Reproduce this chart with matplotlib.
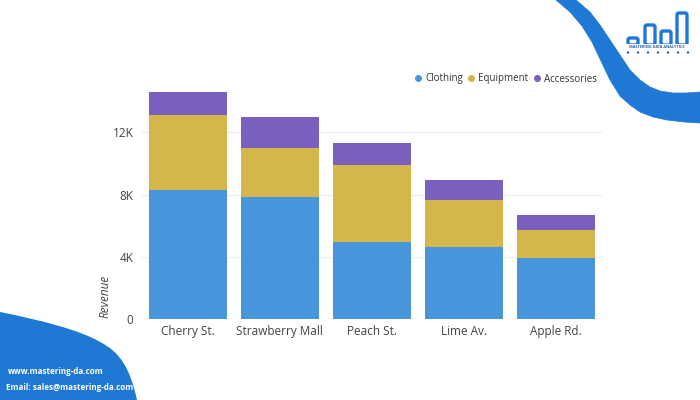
import matplotlib
matplotlib.use("Agg")
import matplotlib.pyplot as plt
import numpy as np
from matplotlib.path import Path
from matplotlib.patches import PathPatch, FancyBboxPatch, Circle, Polygon
from matplotlib.lines import Line2D

plt.rcParams['font.family'] = ['Open Sans', 'DejaVu Sans']

# datos
stores = ["Cherry St.", "Strawberry Mall", "Peach St.", "Lime Av.", "Apple Rd."]
clothing = [8300, 7830, 4960, 4640, 3910]
equipment = [4790, 3180, 4920, 3000, 1840]
accessories = [1500, 1990, 1450, 1320, 940]
series_names = ["Clothing", "Equipment", "Accessories"]
yticks = [0, 4000, 8000, 12000]
ytick_labels = ["0", "4K", "8K", "12K"]

colors = ["#4796db", "#d5b64b", "#7a5fbf"]
wave_blue = "#1f78d4"

W, H = 700, 400
fig = plt.figure(figsize=(7, 4), dpi=100)

# fondo con la decoracion (coordenadas en pixeles)
bg = fig.add_axes([0, 0, 1, 1], zorder=0)
bg.set_xlim(0, W)
bg.set_ylim(H, 0)
bg.axis("off")

# onda abajo a la izquierda
verts = [(0, 312), (40, 320), (80, 330), (100, 342),
         (120, 352), (130, 368), (137, 400),
         (0, 400), (0, 312)]
codes = [Path.MOVETO, Path.CURVE4, Path.CURVE4, Path.CURVE4,
         Path.CURVE4, Path.CURVE4, Path.CURVE4,
         Path.LINETO, Path.CLOSEPOLY]
bg.add_patch(PathPatch(Path(verts, codes), facecolor=wave_blue, edgecolor="none"))

# onda arriba a la derecha
outer = [(556, 0), (570, 12), (582, 26), (592, 42), (600, 59), (610, 80), (620, 96),
         (630, 105), (640, 112), (653, 117), (667, 120), (684, 122), (700, 123)]
inner = [(700, 92), (686, 93), (673, 93), (660, 91), (650, 87), (640, 80), (630, 70),
         (618, 52), (610, 40), (600, 25), (590, 12), (576, 0)]
bg.add_patch(Polygon(outer + inner, closed=True, facecolor=wave_blue, edgecolor=wave_blue,
                     lw=0.5, joinstyle="round"))

# logo
for x0, top in [(628, 38), (645, 25), (661, 31), (677, 13)]:
    bg.add_patch(FancyBboxPatch((x0, top), 10, 45 - top,
                                boxstyle="round,pad=0,rounding_size=2",
                                facecolor="none", edgecolor=wave_blue, lw=2.4))
bg.add_patch(plt.Rectangle((620, 44), 75, 3, facecolor="white", edgecolor="none"))
bg.text(657, 47.5, "MASTERING DATA ANALYTICS", fontsize=2.8, color="#2a5fa8",
        ha="center", va="center", fontweight="bold")
for i in range(7):
    bg.add_patch(Circle((628 + i * 10, 52.5), 1.2, facecolor="#2a5fa8", edgecolor="none"))

bg.text(8, 372, "www.mastering-da.com", color="white", fontsize=5.8,
        fontweight="bold", va="center")
bg.text(6, 387, "Email: sales@mastering-da.com", color="white", fontsize=5.8,
        fontweight="bold", va="center")

# grafico
ax = fig.add_axes([141.7 / W, (H - 319.3) / H, 460 / W, 233.7 / H], zorder=1)
ax.set_facecolor("none")
x = np.arange(len(stores))
bottom = np.zeros(len(stores))
for vals, name, c in zip([clothing, equipment, accessories], series_names, colors):
    ax.bar(x, vals, width=0.85, bottom=bottom, color=c, label=name, zorder=2)
    bottom += np.array(vals)

ax.set_xlim(-0.5, len(stores) - 0.5)
ax.set_ylim(0, 15000)
ax.set_yticks(yticks)
ax.set_yticklabels(ytick_labels)
ax.set_xticks(x)
ax.set_xticklabels(stores)
ax.tick_params(axis="both", length=0, labelsize=8.5, colors="#444444")
ax.tick_params(axis="y", pad=6)
ax.tick_params(axis="x", pad=4)
ax.grid(axis="y", color="#f0f0f0", lw=1, zorder=0)
for s in ax.spines.values():
    s.set_visible(False)

ax.set_ylabel("Revenue", fontsize=8.5, style="italic", color="#444444")
ax.yaxis.set_label_coords(-0.065, 0.1)

handles = [Line2D([], [], marker="o", ls="none", color=c, markersize=4) for c in colors]
fig.legend(handles, series_names, loc="center right", bbox_to_anchor=(601 / W, 1 - 79 / H),
           ncol=3, frameon=False, fontsize=7.0, handletextpad=0.35, columnspacing=0.45,
           handlelength=0.8, labelcolor="#333333", borderaxespad=0)

fig.savefig("out.png", dpi=100)
